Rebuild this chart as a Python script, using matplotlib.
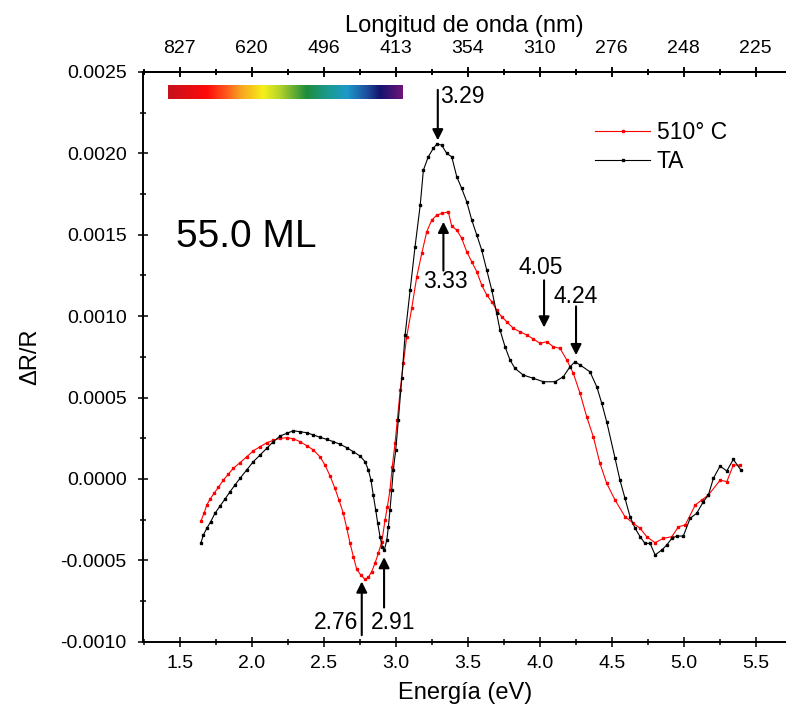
import numpy as np
import matplotlib
matplotlib.use('Agg')
import matplotlib.pyplot as plt
from matplotlib.colors import LinearSegmentedColormap

plt.rcParams['font.family'] = ['Liberation Sans', 'DejaVu Sans']
plt.rcParams['axes.unicode_minus'] = False

# datos
energia_510 = [1.648, 1.669, 1.688, 1.710, 1.738, 1.768, 1.803, 1.838, 1.872, 1.919,
               1.965, 2.011, 2.058, 2.104, 2.150, 2.197, 2.243, 2.289, 2.335, 2.382,
               2.428, 2.474, 2.509, 2.544, 2.578, 2.606, 2.636, 2.660, 2.683, 2.706,
               2.729, 2.757, 2.787, 2.810, 2.833, 2.856, 2.879, 2.903, 2.926, 2.942,
               2.960, 2.976, 2.995, 3.011, 3.031, 3.053, 3.076, 3.111, 3.146, 3.181,
               3.215, 3.250, 3.285, 3.319, 3.365, 3.389, 3.424, 3.458, 3.493, 3.528,
               3.563, 3.597, 3.632, 3.667, 3.701, 3.736, 3.771, 3.817, 3.863, 3.910,
               3.956, 4.002, 4.049, 4.094, 4.141, 4.188, 4.233, 4.280, 4.326, 4.372,
               4.418, 4.465, 4.523, 4.592, 4.650, 4.697, 4.743, 4.801, 4.858, 4.917,
               4.963, 5.010, 5.080, 5.125, 5.171, 5.253, 5.299, 5.344, 5.390]
dr_510 = [-0.000257, -0.000211, -0.000160, -0.000125, -0.000089, -0.000052, -0.000007, 0.000030, 0.000065, 0.000100,
          0.000136, 0.000173, 0.000198, 0.000222, 0.000237, 0.000249, 0.000253, 0.000247, 0.000229, 0.000204,
          0.000178, 0.000136, 0.000085, 0.000018, -0.000058, -0.000130, -0.000211, -0.000303, -0.000396, -0.000478,
          -0.000555, -0.000590, -0.000617, -0.000604, -0.000570, -0.000518, -0.000457, -0.000386, -0.000252, -0.000171,
          -0.000068, 0.000075, 0.000219, 0.000362, 0.000546, 0.000710, 0.000873, 0.001048, 0.001242, 0.001386,
          0.001518, 0.001590, 0.001621, 0.001631, 0.001641, 0.001553, 0.001529, 0.001478, 0.001396, 0.001334,
          0.001273, 0.001191, 0.001130, 0.001088, 0.001037, 0.000996, 0.000966, 0.000925, 0.000904, 0.000884,
          0.000860, 0.000833, 0.000843, 0.000812, 0.000802, 0.000730, 0.000649, 0.000526, 0.000382, 0.000259,
          0.000096, -0.000027, -0.000130, -0.000232, -0.000273, -0.000303, -0.000355, -0.000392, -0.000365, -0.000355,
          -0.000294, -0.000283, -0.000160, -0.000130, -0.000099, -0.000007, -0.000017, 0.000085, 0.000085]

energia_ta = [1.646, 1.664, 1.688, 1.715, 1.745, 1.780, 1.815, 1.849, 1.884, 1.919,
              1.965, 2.011, 2.058, 2.104, 2.150, 2.197, 2.243, 2.289, 2.335, 2.382,
              2.428, 2.474, 2.521, 2.567, 2.613, 2.660, 2.706, 2.752, 2.787, 2.810,
              2.828, 2.844, 2.861, 2.875, 2.891, 2.907, 2.921, 2.938, 2.949, 2.960,
              2.972, 2.983, 3.000, 3.018, 3.042, 3.065, 3.100, 3.134, 3.170, 3.192,
              3.226, 3.261, 3.285, 3.319, 3.354, 3.389, 3.424, 3.458, 3.493, 3.528,
              3.563, 3.597, 3.632, 3.667, 3.701, 3.724, 3.759, 3.794, 3.828, 3.886,
              3.956, 4.025, 4.106, 4.164, 4.210, 4.245, 4.280, 4.349, 4.396, 4.431,
              4.465, 4.523, 4.557, 4.592, 4.627, 4.662, 4.697, 4.731, 4.766, 4.801,
              4.847, 4.882, 4.917, 4.951, 4.997, 5.044, 5.090, 5.136, 5.171, 5.206,
              5.252, 5.299, 5.344, 5.396]
dr_ta = [-0.000396, -0.000345, -0.000303, -0.000263, -0.000211, -0.000166, -0.000123, -0.000079, -0.000037, 0.000004,
         0.000055, 0.000106, 0.000147, 0.000188, 0.000229, 0.000264, 0.000280, 0.000296, 0.000290, 0.000284,
         0.000270, 0.000256, 0.000243, 0.000229, 0.000213, 0.000192, 0.000167, 0.000141, 0.000106, 0.000055,
         -0.000007, -0.000099, -0.000191, -0.000273, -0.000355, -0.000416, -0.000437, -0.000375, -0.000294, -0.000191,
         -0.000068, 0.000055, 0.000178, 0.000362, 0.000618, 0.000884, 0.001160, 0.001426, 0.001682, 0.001897,
         0.001979, 0.002031, 0.002057, 0.002051, 0.002000, 0.001979, 0.001856, 0.001785, 0.001703, 0.001590,
         0.001498, 0.001406, 0.001283, 0.001160, 0.001017, 0.000915, 0.000812, 0.000730, 0.000679, 0.000638,
         0.000618, 0.000597, 0.000597, 0.000628, 0.000689, 0.000720, 0.000700, 0.000658, 0.000566, 0.000464,
         0.000351, 0.000127, -0.000007, -0.000119, -0.000232, -0.000303, -0.000355, -0.000396, -0.000396, -0.000467,
         -0.000437, -0.000406, -0.000365, -0.000351, -0.000351, -0.000242, -0.000211, -0.000140, -0.000099, 0.000004,
         0.000079, 0.000049, 0.000120, 0.000055]

ticks_energia = [1.5, 2.0, 2.5, 3.0, 3.5, 4.0, 4.5, 5.0, 5.5]
ticks_onda = ['827', '620', '496', '413', '354', '310', '276', '248', '225']
ticks_dr = [-0.0010, -0.0005, 0.0, 0.0005, 0.0010, 0.0015, 0.0020, 0.0025]

# (etiqueta, x flecha, y cola, y punta, x texto, y texto, alineacion)
picos = [
    ('3.29', 3.292, 0.00239, 0.00208, 3.306, 0.00235, 'left'),
    ('3.33', 3.331, 0.00128, 0.00158, 3.348, 0.00121, 'center'),
    ('4.05', 4.030, 0.00122, 0.00093, 4.008, 0.00130, 'center'),
    ('4.24', 4.252, 0.00106, 0.00076, 4.251, 0.00112, 'center'),
    ('2.76', 2.764, -0.00096, -0.00063, 2.740, -0.000885, 'right'),
    ('2.91', 2.919, -0.00079, -0.00048, 2.984, -0.000885, 'center'),
]

fig = plt.figure(figsize=(7.86, 7.10), dpi=100)
ax = fig.add_axes([0.1823, 0.0962, 0.8177, 0.8024])

ax.plot(energia_510, dr_510, color='red', lw=0.8, marker='s', ms=1.9, label='510° C')
ax.plot(energia_ta, dr_ta, color='black', lw=0.8, marker='s', ms=1.9, label='TA')

ax.set_xlim(1.247, 5.71)
ax.set_ylim(-0.0010, 0.0025)
ax.set_xticks(ticks_energia)
ax.set_xticks(np.arange(1.25, 5.6, 0.25), minor=True)
ax.set_yticks(ticks_dr)
ax.set_yticks(np.arange(-0.00075, 0.0025, 0.0005), minor=True)
ax.yaxis.set_major_formatter(matplotlib.ticker.FormatStrFormatter('%.4f'))

for s in ['left', 'bottom', 'top']:
    ax.spines[s].set_linewidth(1.4)
ax.spines['right'].set_visible(False)
ax.tick_params(which='both', direction='inout', top=True, right=False, width=1.1, labelsize=14)
ax.tick_params(which='major', length=6.7)
ax.tick_params(which='minor', length=4.1)
ax.tick_params(axis='x', pad=6.5)
ax.tick_params(axis='y', pad=8.5)

ax.set_xlabel('Energía (eV)', fontsize=17, labelpad=7)
ax.set_ylabel('ΔR/R', fontsize=17, labelpad=14)

sec = ax.secondary_xaxis('top')
sec.set_xticks(ticks_energia, labels=ticks_onda)
sec.set_xticks(np.arange(1.25, 5.6, 0.25), minor=True)
sec.spines['top'].set_linewidth(1.4)
sec.tick_params(which='both', direction='inout', width=1.1, labelsize=14, pad=7.5)
sec.tick_params(which='major', length=6.7)
sec.tick_params(which='minor', length=4.1)
sec.set_xlabel('Longitud de onda (nm)', fontsize=17, labelpad=6)

# barra de colores del espectro visible
espectro = LinearSegmentedColormap.from_list('espectro', [
    (0.0, '#c4121c'), (0.164, '#ff0a0a'), (0.249, '#ff5a1e'), (0.306, '#f8a020'),
    (0.405, '#f5f01a'), (0.476, '#b4d22a'), (0.59, '#1e8c3c'), (0.676, '#1a9a8c'),
    (0.761, '#1e9ac8'), (0.846, '#1e50a0'), (0.903, '#14146e'), (1.0, '#6e1478')])
ax.imshow(np.linspace(0, 1, 256)[None, :], cmap=espectro, aspect='auto',
          extent=(1.421, 3.049, 0.002332, 0.002414), zorder=3)

ax.text(1.474, 0.001486, '55.0 ML', fontsize=28, va='center', ha='left')

for etiqueta, xf, yc, yp, xt, yt, al in picos:
    ax.annotate('', xy=(xf, yp), xytext=(xf, yc),
                arrowprops=dict(arrowstyle='-|>', color='black', lw=1.5,
                                mutation_scale=16, shrinkA=0, shrinkB=0))
    ax.text(xt, yt, etiqueta, fontsize=16.5, ha=al, va='center')

ax.legend(loc='upper left', bbox_to_anchor=(0.685, 0.934), frameon=False,
          fontsize=16.5, handlelength=2.4, handletextpad=0.3, labelspacing=0.25,
          borderpad=0, numpoints=1)

fig.savefig('out.png', dpi=100)
